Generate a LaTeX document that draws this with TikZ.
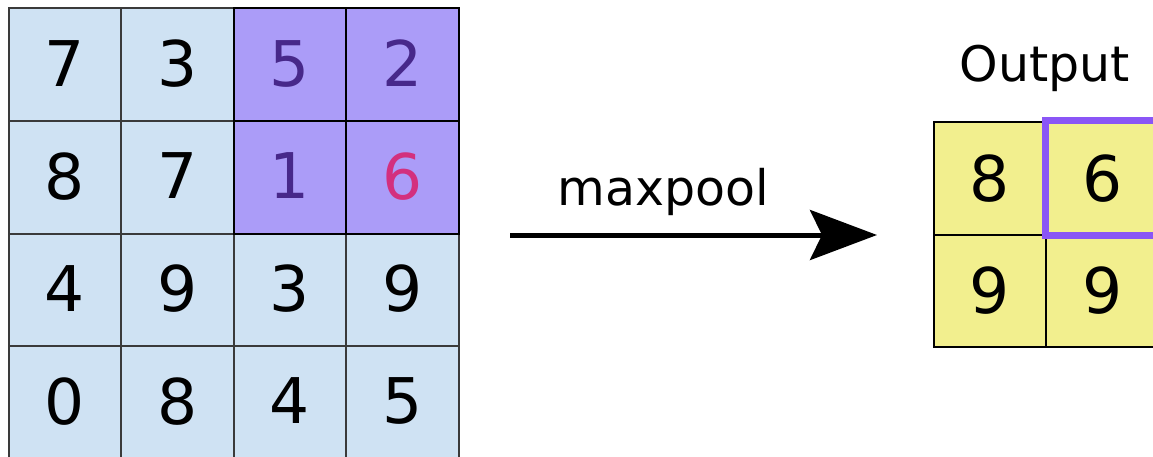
\documentclass[tikz,border=0pt]{standalone}
\usepackage{fontspec}
\setmainfont{DejaVu Sans}
\usetikzlibrary{arrows.meta}
\definecolor{cellblue}{HTML}{CFE2F3}
\definecolor{cellline}{HTML}{3A3A3A}
\definecolor{poolpurple}{HTML}{AB9CF8}
\definecolor{pooltext}{HTML}{47288A}
\definecolor{maxpink}{HTML}{D3307E}
\definecolor{outyellow}{HTML}{F2EF8E}
\definecolor{markpurple}{HTML}{8A56F6}
\tikzset{
  cell/.style={draw=cellline, line width=2pt, minimum size=112.5pt, inner sep=0pt,
    text depth=0.25em, font=\fontsize{63}{70}\selectfont},
  incell/.style={cell, fill=cellblue},
  poolcell/.style={cell, draw=black, fill=poolpurple, text=pooltext},
  outcell/.style={cell, draw=black, fill=outyellow, text depth=0.12em},
  caption/.style={font=\fontsize{49}{58}\selectfont, inner sep=0pt, anchor=base},
}
\begin{document}
\begin{tikzpicture}[x=1pt,y=-1pt]
  \useasboundingbox (0,0) rectangle (1153,457);
  % input grid
  \draw
    (64.75,64.75) node[incell] (in00){7}
    (177.25,64.75) node[incell] (in01){3}
    (64.75,177.25) node[incell] (in10){8}
    (177.25,177.25) node[incell] (in11){7}
    (64.75,289.75) node[incell] (in20){4}
    (177.25,289.75) node[incell] (in21){9}
    (289.75,289.75) node[incell] (in22){3}
    (402.25,289.75) node[incell] (in23){9}
    (64.75,402.25) node[incell] (in30){0}
    (177.25,402.25) node[incell] (in31){8}
    (289.75,402.25) node[incell] (in32){4}
    (402.25,402.25) node[incell] (in33){5};
  % pooled window
  \draw
    (289.75,64.75) node[poolcell] (in02){5}
    (402.25,64.75) node[poolcell] (in03){2}
    (289.75,177.25) node[poolcell] (in12){1}
    (402.25,177.25) node[poolcell, text=maxpink] (in13){6};
  % output grid
  \draw
    (989.75,178.25) node[outcell] (out00){8}
    (1102.25,178.25) node[outcell] (out01){6}
    (989.75,290.75) node[outcell] (out10){9}
    (1102.25,290.75) node[outcell] (out11){9};
  \draw[markpurple, line width=7pt] (out01.north west) rectangle (out01.south east);
  \node[caption] (outlabel) at (1045,82) {Output};
  % arrow
  \coordinate (pstart) at (510,235);
  \coordinate (pend) at (877,235);
  \node[caption] (poolname) at (663.5,205) {maxpool};
  \draw[line width=5pt, -{Stealth[length=67pt, width=50pt, inset=12pt]}] (pstart) -- (pend);
\end{tikzpicture}
\end{document}
